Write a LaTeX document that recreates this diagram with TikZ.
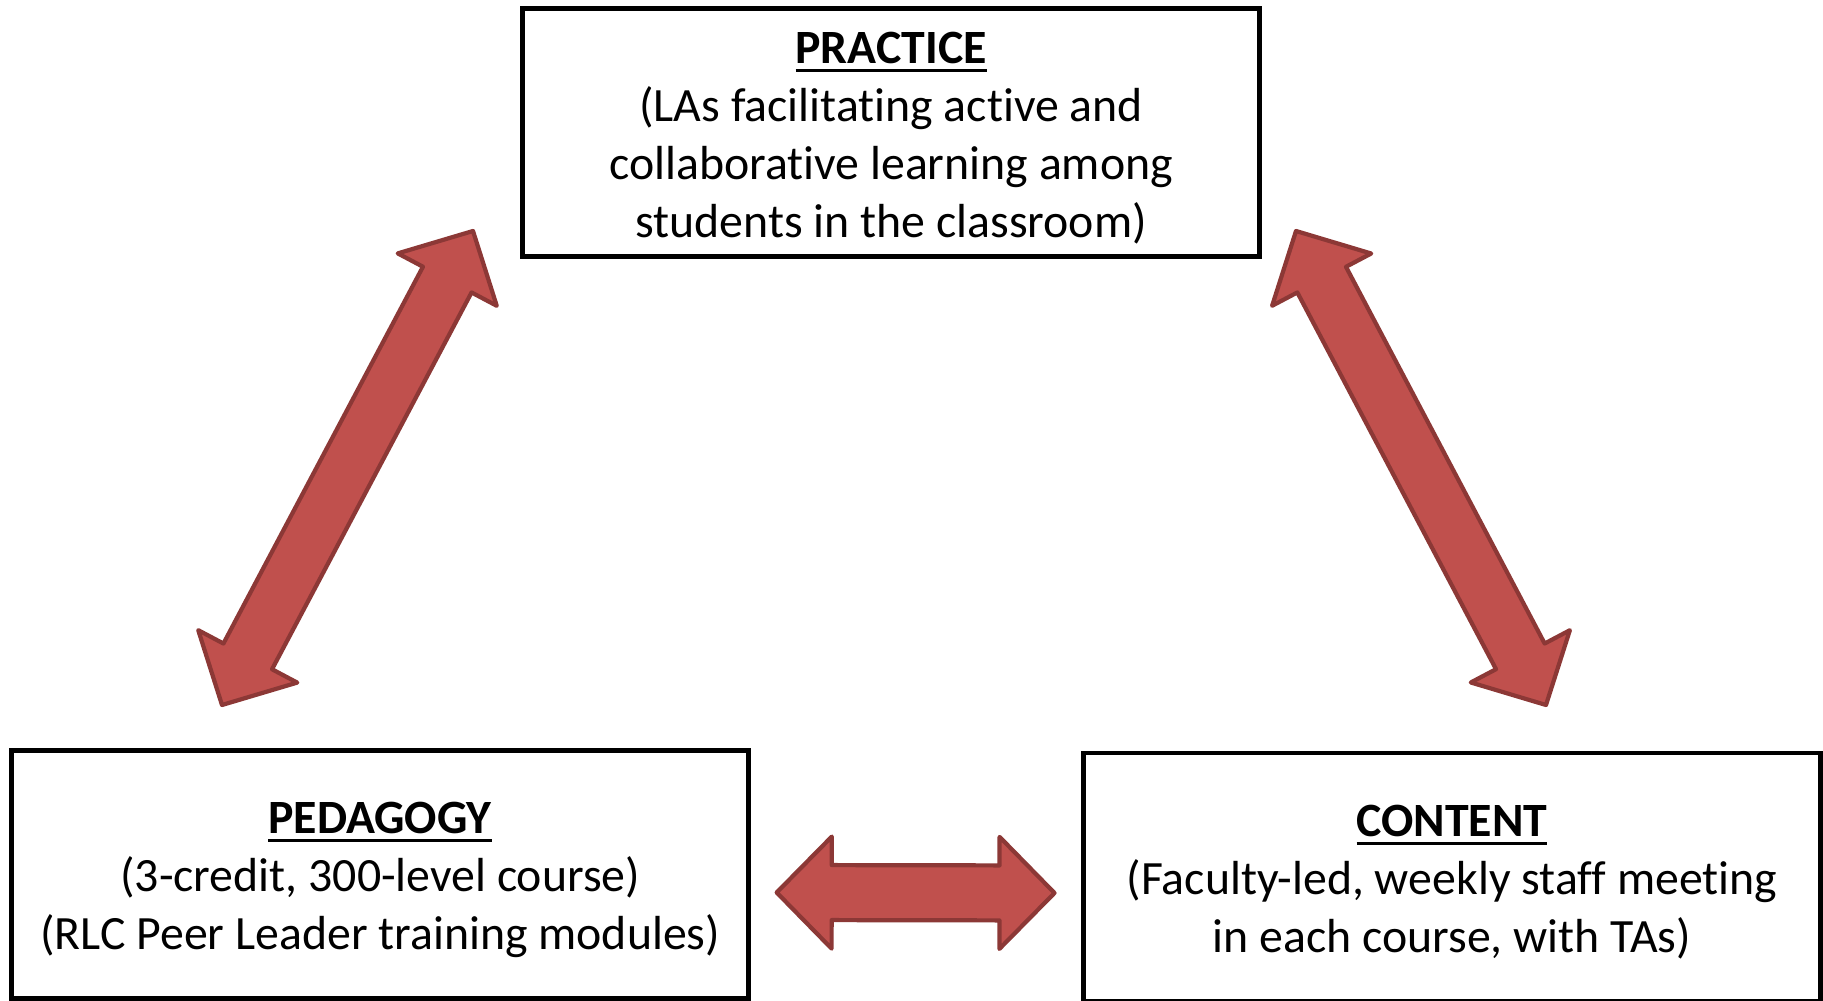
\documentclass[tikz,border=0pt]{standalone}
\usepackage{fontspec}
\setmainfont{Carlito}[Ligatures=NoCommon]
\usetikzlibrary{calc,positioning}

\definecolor{arrowfill}{RGB}{192,80,77}
\definecolor{arrowline}{RGB}{140,56,54}

% bold, underlined box heading
\newcommand{\hdr}[1]{\rule{0pt}{12pt}\setbox0\hbox{\textbf{#1}}\rlap{\rule[-2.4pt]{\wd0}{0.8pt}}\box0}

% fat double arrow between two named coordinates
\newcommand{\fatarrow}[2]{%
  \draw[fatarrow] (#1)
    -- ($(#1)!0.55cm!(#2)!0.56cm!90:(#2)$)
    -- ($(#1)!0.55cm!(#2)!0.275cm!90:(#2)$)
    -- ($(#2)!0.55cm!(#1)!0.275cm!-90:(#1)$)
    -- ($(#2)!0.55cm!(#1)!0.56cm!-90:(#1)$)
    -- (#2)
    -- ($(#2)!0.55cm!(#1)!0.56cm!90:(#1)$)
    -- ($(#2)!0.55cm!(#1)!0.275cm!90:(#1)$)
    -- ($(#1)!0.55cm!(#2)!0.275cm!-90:(#2)$)
    -- ($(#1)!0.55cm!(#2)!0.56cm!-90:(#2)$)
    -- cycle;}

\begin{document}
\begin{tikzpicture}[
    area/.style={draw, line width=1.3pt, outer sep=0, inner sep=0, minimum width=7.37cm, minimum height=2.48cm, align=center, font={\fontsize{13.6}{16.5}\selectfont}},
    fatarrow/.style={fill=arrowfill, draw=arrowline, line width=1.2pt, line join=round}
  ]
  \useasboundingbox (0,0) rectangle (18.23,10.01);

  \draw (5.227,7.443) node[anchor=south west, area] (practice) {\hdr{PRACTICE}\\ (LAs facilitating active and\\ collaborative learning among\\ students in the classroom)};

  \draw (0.117,0.025) node[anchor=south west, area] (pedagogy) {\hdr{PEDAGOGY}\\ (3-credit, 300-level course)\\ (RLC Peer Leader training modules)};

  \draw (10.835,0.0) node[anchor=south west, area] (content) {\hdr{CONTENT}\\ (Faculty-led, weekly staff meeting\\ in each course, with TAs)};

  \coordinate (ped-top) at (2.22,2.96);
  \coordinate (pra-left) at (4.73,7.70);
  \coordinate (pra-right) at (12.96,7.70);
  \coordinate (con-top) at (15.46,2.96);
  \coordinate (ped-right) at ($(pedagogy.east)+(0.28,-0.18)$);
  \coordinate (con-left) at ($(content.west)+(-0.29,-0.16)$);

  \fatarrow{ped-top}{pra-left}
  \fatarrow{pra-right}{con-top}
  \fatarrow{ped-right}{con-left}
\end{tikzpicture}
\end{document}
